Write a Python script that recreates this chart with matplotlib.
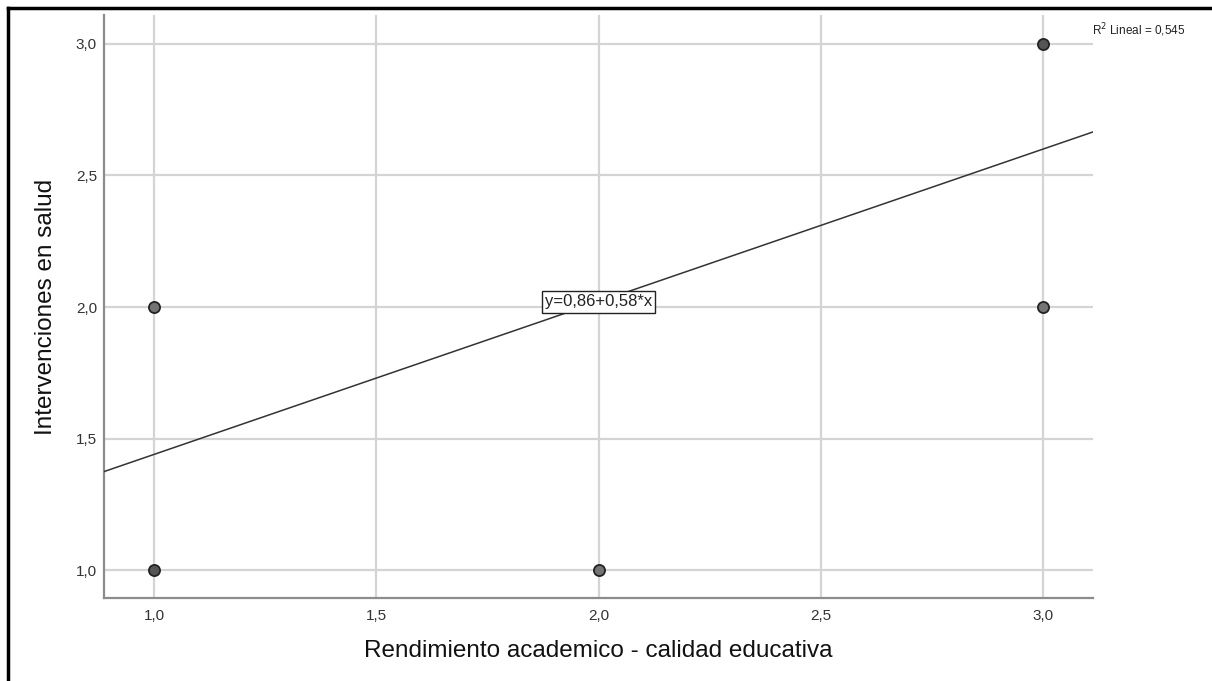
import numpy as np
import matplotlib.pyplot as plt
from matplotlib.lines import Line2D

plt.rcParams['font.family'] = ['Liberation Sans', 'DejaVu Sans']

# datos
rendimiento = [1, 1, 2, 3, 3]
intervenciones = [1, 2, 1, 2, 3]
repetidos = [2, 1, 1, 1, 2]   # puntos superpuestos se ven mas oscuros
intercepto = 0.86
pendiente = 0.58
r2 = "0,545"
ticks = [1.0, 1.5, 2.0, 2.5, 3.0]
tick_labels = ["1,0", "1,5", "2,0", "2,5", "3,0"]

fig = plt.figure(figsize=(12.12, 6.81), dpi=100)
ax = fig.add_axes([104 / 1212, 1 - 598 / 681, (1093 - 104) / 1212, (598 - 15) / 681])

ax.set_xlim(0.887, 3.113)
ax.set_ylim(0.894, 3.11)
ax.set_xticks(ticks)
ax.set_xticklabels(tick_labels)
ax.set_yticks(ticks)
ax.set_yticklabels(tick_labels)
ax.tick_params(length=0, labelsize=11, labelcolor='#333333')
ax.tick_params(axis='x', pad=8)
ax.tick_params(axis='y', pad=5)
ax.grid(True, color='#d4d4d4', linewidth=1.6)
ax.set_axisbelow(True)
for s in ['top', 'right']:
    ax.spines[s].set_visible(False)
for s in ['left', 'bottom']:
    ax.spines[s].set_color('#8c8c8c')
    ax.spines[s].set_linewidth(1.6)

# recta de ajuste
xl = np.array(ax.get_xlim())
ax.plot(xl, intercepto + pendiente * xl, color='#333333', linewidth=1.1, zorder=3)

for x, y, n in zip(rendimiento, intervenciones, repetidos):
    fc = '#555555' if n > 1 else '#747474'
    ax.plot(x, y, 'o', markersize=8, markerfacecolor=fc,
            markeredgecolor='#222222', markeredgewidth=1.3, zorder=4)

ax.text(2.0, intercepto + pendiente * 2.0, "y=0,86+0,58*x", ha='center', va='center',
        fontsize=12, color='#222222', zorder=5,
        bbox=dict(boxstyle='square,pad=0.2', facecolor='white', edgecolor='#222222', linewidth=1))

fig.text(1092 / 1212, 1 - 30 / 681, "R$^2$ Lineal = " + r2, fontsize=8.5,
         ha='left', va='center', color='#222222')

ax.set_xlabel("Rendimiento academico - calidad educativa", fontsize=17.5, color='#111111')
ax.set_ylabel("Intervenciones en salud", fontsize=17.5, color='#111111')
ax.xaxis.set_label_coords((598 - 104) / 989, -(651 - 598) / 583)
ax.yaxis.set_label_coords(-(104 - 46) / 989, (598 - 307) / 583)
ax.xaxis.label.set_va('center')
ax.yaxis.label.set_va('center')

# marco negro
fig.add_artist(Line2D([8 / 1212, 8 / 1212], [0, 1 - 8 / 681], color='black', linewidth=2.5))
fig.add_artist(Line2D([8 / 1212, 1], [1 - 8 / 681, 1 - 8 / 681], color='black', linewidth=2.5))

fig.savefig("out.png", dpi=100)
